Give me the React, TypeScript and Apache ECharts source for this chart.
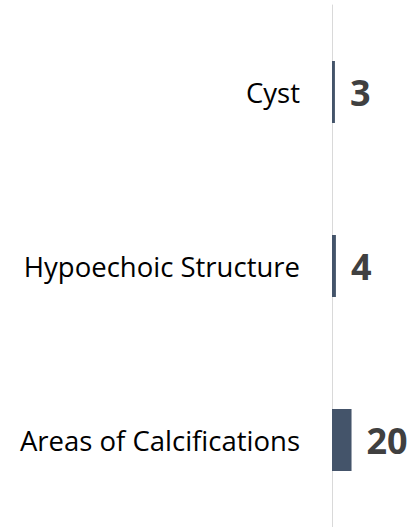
import React, { useEffect, useRef } from "react";
import * as echarts from "echarts";

const categories = ["Cyst", "Hypoechoic Structure", "Areas of Calcifications"];
const values = [3, 4, 20];

export default function App() {
  const ref = useRef<HTMLDivElement>(null);
  useEffect(() => {
    if (!ref.current) return;
    const chart = echarts.init(ref.current, null, { renderer: "svg" });
    chart.setOption({
      animation: false,
      backgroundColor: "#ffffff",
      grid: { left: 332, right: 0, top: 5, height: 524, containLabel: false },
      xAxis: {
        type: "value",
        min: 0,
        max: 86,
        show: false,
      },
      yAxis: {
        type: "category",
        data: categories,
        inverse: true,
        axisLine: { show: true, lineStyle: { color: "#d9d9d9", width: 1 } },
        axisTick: { show: false },
        axisLabel: {
          color: "#000000",
          fontFamily: "Open Sans",
          fontSize: 27.5,
          margin: 32,
        },
      },
      series: [
        {
          type: "bar",
          data: values,
          barWidth: 62,
          itemStyle: { color: "#44546A" },
          label: {
            show: true,
            position: "right",
            distance: 15,
            color: "#404040",
            fontFamily: "Open Sans",
            fontWeight: "bold",
            fontSize: 36,
          },
        },
      ],
    });
    return () => chart.dispose();
  }, []);
  return (
    <div
      ref={ref}
      style={{ position: "fixed", left: 0, top: 0, width: 416, height: 527 }}
    />
  );
}
